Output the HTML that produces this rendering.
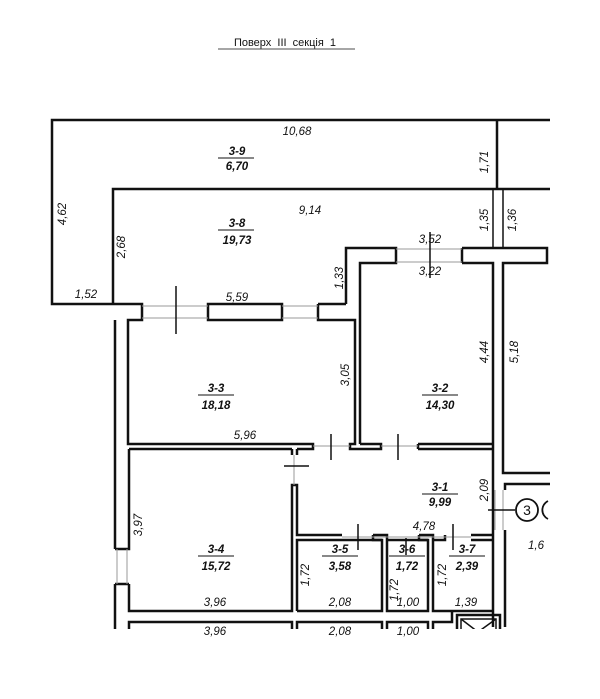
<!DOCTYPE html>
<html><head><meta charset="utf-8"><style>
html,body{margin:0;padding:0;background:#fff;width:600px;height:699px;overflow:hidden}
svg{display:block}
text{font-family:"Liberation Sans",sans-serif;font-style:italic;fill:#111}
.b{font-weight:bold;font-size:11.5px}
.d{font-size:11.5px}
</style></head><body>
<svg width="600" height="699" viewBox="0 0 600 699" xmlns="http://www.w3.org/2000/svg">
<text x="285" y="46" text-anchor="middle" style="font-style:normal;font-size:11px">Поверх&#160;&#160;III&#160;&#160;секція&#160;&#160;1</text>
<line x1="218" y1="49" x2="355" y2="49" stroke="#111" stroke-width="0.8"/>
<defs><clipPath id="c"><rect x="0" y="0" width="600" height="629"/></clipPath></defs>
<g clip-path="url(#c)" fill="none" stroke="#111" stroke-width="2.5">
<polyline points="550,120 52,120 52,304 113,304"/>
<polyline points="550,189 113,189 113,304"/>
<line x1="497" y1="120" x2="497" y2="189"/>
<g stroke-width="1.5"><line x1="493" y1="189" x2="493" y2="248"/><line x1="503" y1="189" x2="503" y2="248"/></g>
<polyline points="346,304 346,248 396,248 396,263 360,263 360,444"/>
<polyline points="462,248 547,248 547,263 503,263 503,473 550,473"/>
<polyline points="462,263 462,248"/>
<polyline points="462,263 493,263 493,627"/>
<polyline points="550,484 505,484 505,490"/>
<polyline points="505,530 505,627"/>
<polyline points="113,304 142,304 142,320 128,320 128,444 313,444 313,449 297,449"/>
<line x1="129" y1="449" x2="292" y2="449"/>
<rect x="208" y="304" width="74" height="16"/>
<polyline points="318,304 346,304"/>
<polyline points="318,304 318,320 355,320 355,444 350,444 350,449 381,449 381,444 360,444"/>
<polyline points="418,444 493,444"/>
<polyline points="418,449 493,449"/>
<polyline points="418,444 418,449"/>
<line x1="115" y1="320" x2="115" y2="549"/>
<line x1="115" y1="584" x2="115" y2="629"/>
<polyline points="129,449 129,549 115,549"/>
<polyline points="129,584 115,584"/>
<polyline points="129,584 129,611 292,611 292,485 297,485 297,535 342,535"/>
<line x1="292" y1="449" x2="292" y2="455"/>
<line x1="297" y1="449" x2="297" y2="455"/>
<polyline points="297,611 297,540 382,540 382,611 297,611"/>
<polyline points="373,535 387,535 387,611 428,611 428,540 387,540"/>
<polyline points="373,535 373,540 382,540"/>
<polyline points="419,535 433,535 433,611 493,611"/>
<polyline points="419,535 419,540 428,540"/>
<polyline points="433,540 445,540 445,535"/>
<polyline points="471,535 493,535"/>
<polyline points="471,540 493,540"/>
<polyline points="129,629 129,622 292,622 292,629"/>
<polyline points="297,629 297,622 382,622 382,629"/>
<polyline points="387,629 387,622 428,622 428,629"/>
<polyline points="433,629 433,622 452,622 452,611"/>
<rect x="457" y="615" width="43" height="20"/>
<rect x="461" y="619" width="35" height="20" stroke-width="1.5"/>
<polyline points="461,619 478,632 496,619" stroke-width="1.5"/>
</g>
<g stroke="#999" stroke-width="1" fill="none">
<line x1="142" y1="306" x2="208" y2="306"/><line x1="142" y1="318" x2="208" y2="318"/>
<line x1="282" y1="306" x2="318" y2="306"/><line x1="282" y1="318" x2="318" y2="318"/>
<line x1="396" y1="249" x2="462" y2="249"/><line x1="396" y1="262" x2="462" y2="262"/>
<line x1="313" y1="446" x2="350" y2="446"/><line x1="381" y1="446" x2="418" y2="446"/>
<line x1="117" y1="549" x2="117" y2="584"/><line x1="127" y1="549" x2="127" y2="584"/>
<line x1="495" y1="490" x2="495" y2="530"/><line x1="503" y1="490" x2="503" y2="530"/>
<line x1="294" y1="455" x2="294" y2="485"/>
<line x1="342" y1="537" x2="471" y2="537"/>
</g>
<g stroke="#111" stroke-width="1.5">
<line x1="176" y1="286" x2="176" y2="334"/>
<line x1="430" y1="232" x2="430" y2="278"/>
<line x1="331" y1="434" x2="331" y2="460"/>
<line x1="398" y1="434" x2="398" y2="460"/>
<line x1="284" y1="466" x2="309" y2="466"/>
<line x1="358" y1="524" x2="358" y2="550"/>
<line x1="406" y1="538" x2="406" y2="555"/>
<line x1="453" y1="524" x2="453" y2="550"/>
<line x1="488" y1="510" x2="515" y2="510"/>
</g>
<circle cx="527" cy="510" r="11" fill="none" stroke="#111" stroke-width="1.8"/>
<path d="M548,501 A10,10 0 0 0 548,519" fill="none" stroke="#111" stroke-width="1.8"/>
<text x="527" y="515" text-anchor="middle" style="font-style:normal;font-size:14px">3</text>
<text x="528" y="549" class="d">1,6</text>
<g class="b" text-anchor="middle">
<text x="237" y="155" class="b">3-9</text><line x1="218" y1="158" x2="254" y2="158" stroke="#111"/><text x="237" y="170" class="b">6,70</text>
<text x="237" y="227" class="b">3-8</text><line x1="218" y1="230" x2="254" y2="230" stroke="#111"/><text x="237" y="244" class="b">19,73</text>
<text x="216" y="392" class="b">3-3</text><line x1="198" y1="395" x2="234" y2="395" stroke="#111"/><text x="216" y="409" class="b">18,18</text>
<text x="440" y="392" class="b">3-2</text><line x1="422" y1="395" x2="458" y2="395" stroke="#111"/><text x="440" y="409" class="b">14,30</text>
<text x="440" y="491" class="b">3-1</text><line x1="422" y1="494" x2="458" y2="494" stroke="#111"/><text x="440" y="506" class="b">9,99</text>
<text x="216" y="553" class="b">3-4</text><line x1="198" y1="556" x2="234" y2="556" stroke="#111"/><text x="216" y="570" class="b">15,72</text>
<text x="340" y="553" class="b">3-5</text><line x1="322" y1="556" x2="358" y2="556" stroke="#111"/><text x="340" y="570" class="b">3,58</text>
<text x="407" y="553" class="b">3-6</text><line x1="389" y1="556" x2="425" y2="556" stroke="#111"/><text x="407" y="570" class="b">1,72</text>
<text x="467" y="553" class="b">3-7</text><line x1="449" y1="556" x2="485" y2="556" stroke="#111"/><text x="467" y="570" class="b">2,39</text>
</g>
<g class="d" text-anchor="middle">
<text x="297" y="135">10,68</text>
<text x="310" y="214">9,14</text>
<text x="86" y="298">1,52</text>
<text x="237" y="301">5,59</text>
<text x="430" y="243">3,52</text>
<text x="430" y="275">3,22</text>
<text x="245" y="439">5,96</text>
<text x="424" y="530">4,78</text>
<text x="215" y="606">3,96</text>
<text x="340" y="606">2,08</text>
<text x="408" y="606">1,00</text>
<text x="466" y="606">1,39</text>
<text x="215" y="635">3,96</text>
<text x="340" y="635">2,08</text>
<text x="408" y="635">1,00</text>
</g>
<g class="d" text-anchor="middle">
<text transform="translate(66,214) rotate(-90)">4,62</text>
<text transform="translate(125,247) rotate(-90)">2,68</text>
<text transform="translate(488,162) rotate(-90)">1,71</text>
<text transform="translate(488,220) rotate(-90)">1,35</text>
<text transform="translate(516,220) rotate(-90)">1,36</text>
<text transform="translate(343,278) rotate(-90)">1,33</text>
<text transform="translate(349,375) rotate(-90)">3,05</text>
<text transform="translate(488,352) rotate(-90)">4,44</text>
<text transform="translate(518,352) rotate(-90)">5,18</text>
<text transform="translate(488,490) rotate(-90)">2,09</text>
<text transform="translate(142,525) rotate(-90)">3,97</text>
<text transform="translate(309,575) rotate(-90)">1,72</text>
<text transform="translate(398,590) rotate(-90)">1,72</text>
<text transform="translate(446,575) rotate(-90)">1,72</text>
</g>
</svg>
</body></html>
